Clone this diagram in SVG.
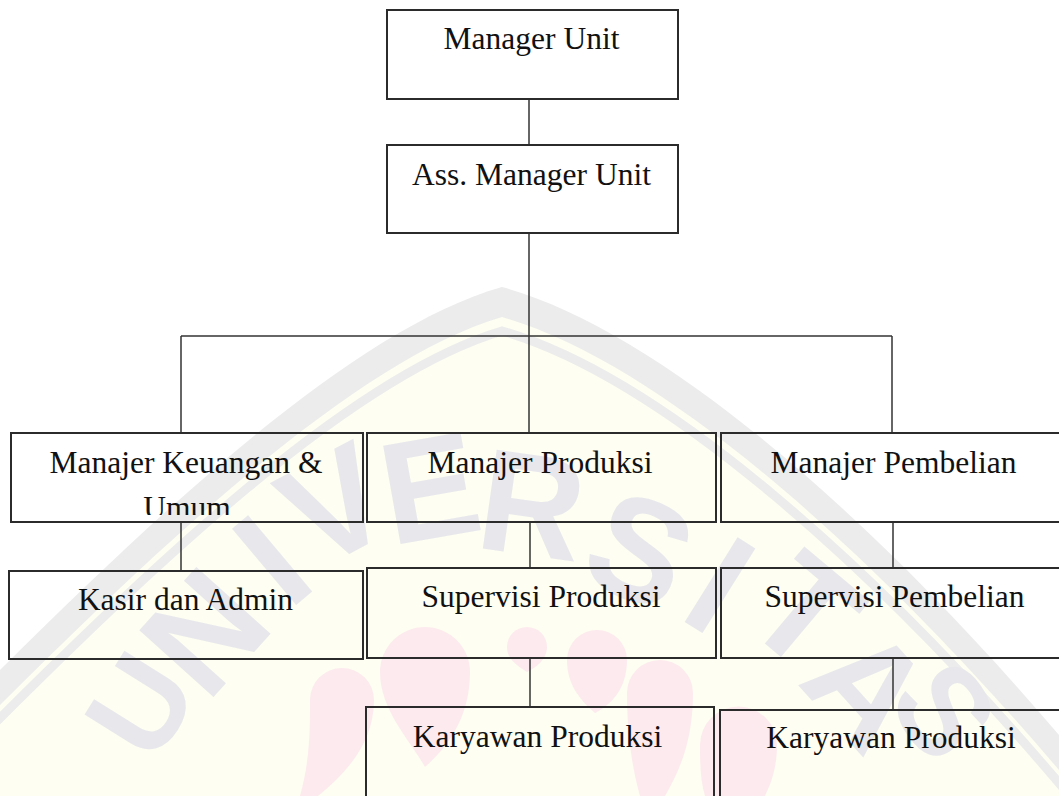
<svg xmlns="http://www.w3.org/2000/svg" width="1059" height="796" viewBox="0 0 1059 796">
<defs>
<style>
.box{fill:none;stroke:#2b2b2b;stroke-width:2}
.lbl{font-family:"Liberation Serif","Times New Roman",serif;font-size:31.5px;fill:#111;text-anchor:middle}
.wm{font-family:"Liberation Sans",Arial,sans-serif;font-weight:bold;font-size:145px;fill:#e8e8ec;text-anchor:middle}
.wms{font-size:125px}
.drop{fill:#fdeaee}
.conn{fill:none;stroke:#333;stroke-width:1.5}
</style>
<clipPath id="clipUmum"><rect x="0" y="480" width="370" height="35"/></clipPath>
</defs>
<rect x="0" y="0" width="1059" height="796" fill="#ffffff"/>
<g id="watermark">
<path d="M -20,690 C 150,520 350,330 502,287 C 660,330 880,520 1080,760 L 1080,796 L -20,796 Z" fill="#ececec"/>
<path d="M -20,725 C 150,555 350,362 502,317 C 660,362 880,555 1080,795 L 1080,796 L -20,796 Z" fill="#fefef2"/>
<path d="M -20,738 C 150,568 350,376 502,331 C 660,376 880,568 1080,808" fill="none" stroke="#ececec" stroke-width="9"/>
<text class="wm wms" transform="translate(140,705) rotate(-58)" y="44">U</text>
<text class="wm" transform="translate(205,632) rotate(-48)" y="50">N</text>
<text class="wm" transform="translate(272,560) rotate(-40)" y="50">I</text>
<text class="wm" transform="translate(335,505) rotate(-28)" y="50">V</text>
<text class="wm" transform="translate(430,488) rotate(-10)" y="50">E</text>
<text class="wm" transform="translate(532,505) rotate(8)" y="50">R</text>
<text class="wm" transform="translate(640,550) rotate(24)" y="50">S</text>
<text class="wm" transform="translate(720,585) rotate(32)" y="50">I</text>
<text class="wm" transform="translate(805,612) rotate(40)" y="50">T</text>
<text class="wm" transform="translate(868,688) rotate(48)" y="50">A</text>
<text class="wm wms" transform="translate(945,710) rotate(55)" y="44">S</text>
<path class="drop" d="M 310,700 A 32,32 0 0 1 374,700 C 374,740 350,770 318,796 L 300,796 C 310,760 310,730 310,700 Z"/>
<path class="drop" d="M 380,672 A 45,45 0 0 1 470,672 C 470,715 450,745 425,767 C 410,740 380,710 380,672 Z"/>
<path class="drop" d="M 507,647 A 20,20 0 0 1 547,647 C 547,660 535,668 527,672 C 515,665 507,658 507,647 Z"/>
<path class="drop" d="M 567,660 A 30,30 0 0 1 627,660 C 627,690 610,705 595,713 C 580,700 567,685 567,660 Z"/>
<path class="drop" d="M 627,693 A 33,33 0 0 1 693,693 C 693,740 680,770 665,796 L 640,796 C 630,760 627,725 627,693 Z"/>
<path class="drop" d="M 700,745 A 38,38 0 0 1 777,745 C 777,770 770,785 765,796 L 705,796 C 700,780 700,760 700,745 Z"/>
</g>
<g id="connectors">
<path class="conn" d="M 529,99 V 145"/>
<path class="conn" d="M 529,233 V 433"/>
<path class="conn" d="M 181,336 H 892"/>
<path class="conn" d="M 181,336 V 433"/>
<path class="conn" d="M 892,336 V 433"/>
<path class="conn" d="M 181,522 V 571"/>
<path class="conn" d="M 530,522 V 568"/>
<path class="conn" d="M 893,522 V 568"/>
<path class="conn" d="M 530,658 V 707"/>
<path class="conn" d="M 893,658 V 710"/>
</g>
<g id="node-manager-unit">
<rect class="box" x="387" y="10" width="291" height="89"/>
<text class="lbl" x="531.5" y="49">Manager Unit</text>
</g>
<g id="node-ass-manager-unit">
<rect class="box" x="387" y="145" width="291" height="88"/>
<text class="lbl" x="531.5" y="185">Ass. Manager Unit</text>
</g>
<g id="node-manajer-keuangan">
<rect class="box" x="11" y="433" width="352" height="89"/>
<text class="lbl" x="186" y="473">Manajer Keuangan &amp;</text>
<text class="lbl" x="187" y="518" clip-path="url(#clipUmum)">Umum</text>
</g>
<g id="node-manajer-produksi">
<rect class="box" x="367" y="433" width="349" height="89"/>
<text class="lbl" x="540" y="473">Manajer Produksi</text>
</g>
<g id="node-manajer-pembelian">
<rect class="box" x="721" y="433" width="350" height="89"/>
<text class="lbl" x="893.5" y="473">Manajer Pembelian</text>
</g>
<g id="node-kasir-admin">
<rect class="box" x="9" y="571" width="354" height="88"/>
<text class="lbl" x="185.5" y="610">Kasir dan Admin</text>
</g>
<g id="node-supervisi-produksi">
<rect class="box" x="367" y="568" width="349" height="90"/>
<text class="lbl" x="541" y="607">Supervisi Produksi</text>
</g>
<g id="node-supervisi-pembelian">
<rect class="box" x="721" y="568" width="350" height="90"/>
<text class="lbl" x="894.5" y="607">Supervisi Pembelian</text>
</g>
<g id="node-karyawan-produksi-1">
<rect class="box" x="366" y="707" width="348" height="100"/>
<text class="lbl" x="537.5" y="747">Karyawan Produksi</text>
</g>
<g id="node-karyawan-produksi-2">
<rect class="box" x="720" y="710" width="350" height="100"/>
<text class="lbl" x="891" y="748">Karyawan Produksi</text>
</g>
</svg>
